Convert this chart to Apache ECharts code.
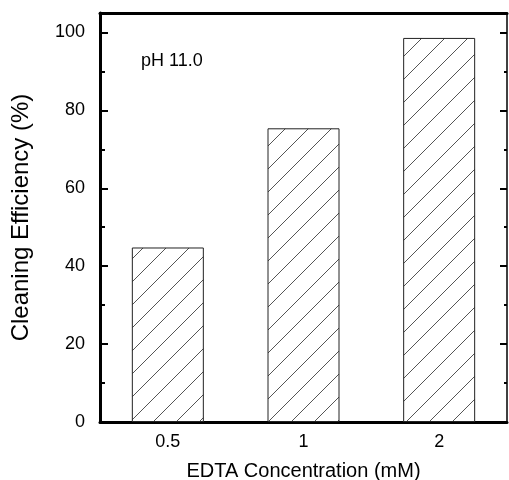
<!DOCTYPE html>
<html><head><meta charset="utf-8">
<script src="https://cdn.jsdelivr.net/npm/echarts@6/dist/echarts.min.js"></script>
<style>html,body{margin:0;padding:0;background:#fff}#c{width:509px;height:480px}</style>
</head><body><div id="c"></div>
<script>
const categories = ['0.5', '1', '2'];
const efficiency = [44.8, 75.4, 98.6];
const annotation = 'pH 11.0';
const xTitle = 'EDTA Concentration (mM)';
const yTitle = 'Cleaning Efficiency (%)';

const pc = document.createElement('canvas');
const S = 23;
pc.width = S; pc.height = S;
const ctx = pc.getContext('2d');
ctx.fillStyle = '#fff'; ctx.fillRect(0, 0, S, S);
ctx.strokeStyle = '#555'; ctx.lineWidth = 1;
ctx.beginPath();
ctx.moveTo(-2, S + 2); ctx.lineTo(S + 2, -2);
ctx.moveTo(-2, 2); ctx.lineTo(2, -2);
ctx.moveTo(S - 2, S + 2); ctx.lineTo(S + 2, S - 2);
ctx.stroke();

const font = 'Liberation Sans, Arial, sans-serif';
const chart = echarts.init(document.getElementById('c'), null, {renderer: 'canvas'});
const yBase = {type: 'value', min: 0, max: 105, splitLine: {show: false}};
chart.setOption({
  animation: false,
  grid: {left: 100, right: 2, top: 13, bottom: 58, containLabel: false, outerBoundsMode: 'none'},
  xAxis: [
    {type: 'category', data: categories, position: 'bottom',
     axisLine: {onZero: false, lineStyle: {color: '#000', width: 3}}, axisTick: {show: false},
     axisLabel: {color: '#000', fontSize: 18, fontFamily: font, margin: 11},
     name: xTitle, nameLocation: 'middle', nameGap: 39,
     nameTextStyle: {color: '#000', fontSize: 20, fontFamily: font}},
    {type: 'category', data: categories, position: 'top',
     axisLine: {onZero: false, lineStyle: {color: '#000', width: 3}}, axisTick: {show: false}, axisLabel: {show: false}}
  ],
  yAxis: [
    Object.assign({}, yBase, {interval: 20, position: 'left',
     axisLine: {show: true, onZero: false, lineStyle: {color: '#000', width: 3}},
     axisTick: {show: true, inside: true, length: 8, lineStyle: {color: '#000', width: 2}},
     axisLabel: {color: '#000', fontSize: 18, fontFamily: font, margin: 15,
       formatter: v => (v % 20 === 0 ? String(v) : '')},
     name: yTitle, nameLocation: 'middle', nameGap: 67,
     nameTextStyle: {color: '#000', fontSize: 24, fontFamily: font}}),
    Object.assign({}, yBase, {interval: 10, position: 'left',
     axisLine: {show: false},
     axisTick: {show: true, inside: true, length: 5, lineStyle: {color: '#000', width: 2}},
     axisLabel: {show: false}}),
    Object.assign({}, yBase, {interval: 20, position: 'right',
     axisLine: {show: true, onZero: false, lineStyle: {color: '#000', width: 1.5}},
     axisTick: {show: true, inside: true, length: 7, lineStyle: {color: '#000', width: 2}},
     axisLabel: {show: false}}),
    Object.assign({}, yBase, {interval: 10, position: 'right',
     axisLine: {show: false},
     axisTick: {show: true, inside: true, length: 3, lineStyle: {color: '#000', width: 2}},
     axisLabel: {show: false}})
  ],
  graphic: [{type: 'text', left: 141, top: 52,
    style: {text: annotation, fill: '#000', font: '18px ' + font}}],
  series: [{
    type: 'bar', data: efficiency, barWidth: 72, xAxisIndex: 0, yAxisIndex: 0,
    itemStyle: {color: {image: pc, repeat: 'repeat'}, borderColor: '#222', borderWidth: 1}
  }]
});
</script></body></html>
